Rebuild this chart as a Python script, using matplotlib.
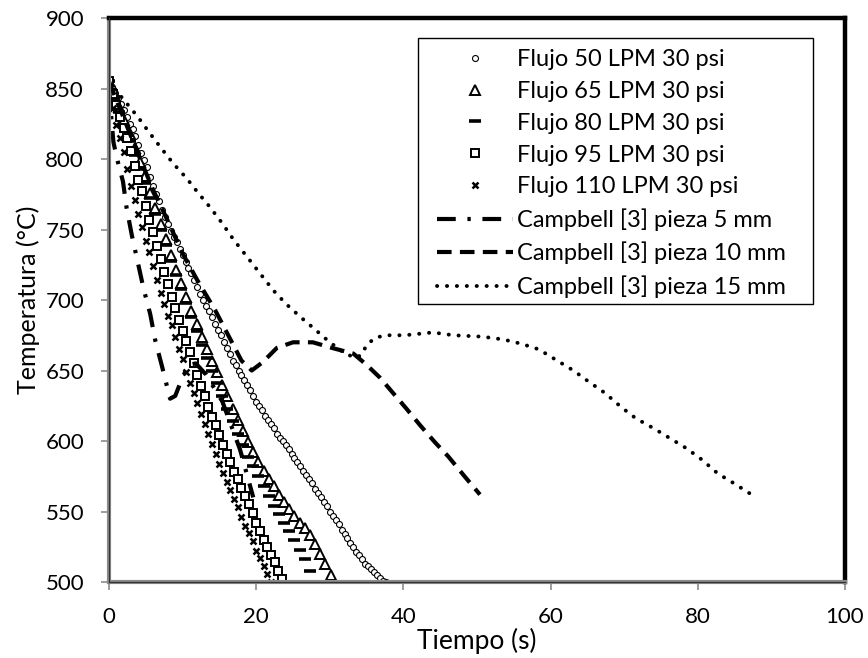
import numpy as np
import matplotlib
matplotlib.use('Agg')
import matplotlib.pyplot as plt
from matplotlib.patches import Rectangle

plt.rcParams['font.family'] = ['Lato', 'DejaVu Sans']

# --- datos ---
# flujos medidos (paso de tiempo constante por serie)
T50 = [855, 851, 847, 843, 839, 835, 830, 825, 821, 816,
       810, 804, 799, 794, 787, 781, 775, 770, 764, 759,
       754, 749, 745, 741, 736, 732, 727, 723, 719, 714,
       709, 704, 700, 696, 692, 688, 683, 679, 675, 670,
       666, 662, 657, 654, 650, 647, 643, 640, 636, 632,
       628, 625, 622, 618, 615, 612, 609, 605, 602, 600,
       597, 594, 591, 588, 585, 582, 579, 576, 573, 570,
       566, 563, 560, 557, 554, 550, 547, 544, 541, 537,
       534, 531, 528, 525, 521, 519, 516, 513, 511, 509,
       507, 505, 503, 501, 500]
dt50 = 0.4

T65 = [855, 846, 837, 828, 818, 808, 798, 788, 776, 765,
       754, 743, 732, 721, 712, 702, 692, 683, 674, 665,
       657, 649, 640, 632, 623, 615, 607, 599, 592, 585,
       579, 573, 568, 562, 557, 552, 547, 542, 538, 533,
       527, 520, 513, 505]
dt65 = 0.7

T80 = [855, 844, 833, 823, 813, 803, 793, 783, 772, 761,
       750, 739, 728, 718, 708, 698, 688, 678, 668, 659,
       650, 641, 632, 623, 614, 605, 597, 589, 582, 575,
       568, 561, 554, 548, 542, 536, 530, 523, 516, 508,
       500]
dt80 = 0.7

T95 = [855, 846, 838, 830, 822, 815, 806, 795, 785, 777,
       767, 757, 748, 738, 729, 720, 711, 702, 694, 686,
       678, 671, 663, 655, 647, 639, 632, 624, 617, 611,
       604, 597, 591, 585, 578, 573, 567, 561, 555, 549,
       542, 536, 530, 525, 519, 514, 508, 502]
dt95 = 0.5

T110 = [852, 836, 824, 815, 805, 793, 781, 771, 761, 752,
        742, 734, 724, 714, 705, 697, 689, 682, 674, 665,
        658, 649, 641, 634, 627, 619, 612, 605, 598, 591,
        584, 577, 571, 565, 559, 553, 546, 540, 535, 529,
        522, 517, 511, 506, 500]
dt110 = 0.5

# Campbell [3]
tc5 = [0, 0.3, 0.6, 1.1, 1.9, 2.4, 3.1, 3.9, 4.7, 5.6, 6.3, 7.2, 8.3, 9.0,
       9.9, 10.8, 11.8, 13.2, 15.4, 17.8, 19.6]
Tc5 = [852, 830, 812, 800, 784, 765, 746, 727, 708, 690, 671, 653, 630, 632,
       644, 654, 655, 647, 628, 594, 560]

tc10 = [0, 2, 4, 6, 8, 10, 12, 14.4, 16.7, 18.0, 19.4, 20.9, 22.8, 25.0, 27.7,
        30.3, 33.2, 35.0, 36.8, 38.6, 40.4, 42.3, 44.3, 46.1, 48.3, 50.4]
Tc10 = [855, 829, 803, 778, 756, 733, 714, 693, 670, 657, 650, 656, 666, 670, 670,
        666, 662, 654, 645, 634, 623, 611, 599, 589, 575, 562]

tc15 = [0, 2, 3.9, 5.3, 6.9, 8.7, 10.6, 12.1, 13.7, 15.3,
        16.9, 18.7, 20.5, 22.3, 24.1, 26.0, 27.8, 30.0, 32.1, 33.5,
        34.3, 35.0, 36.1, 37.5, 40.2, 44.0, 46.8, 50.7, 53.6, 56.0,
        58.4, 60.9, 63.1, 65.2, 67.4, 69.6, 71.6, 74.0, 76.2, 78.4,
        80.5, 82.7, 84.9, 87.3]
Tc15 = [855, 842, 830, 820, 809, 797, 786, 776, 766, 755,
        743, 731, 719, 707, 697, 688, 680, 670, 662, 659,
        661, 668, 673, 675, 675, 677, 675, 674, 672, 669,
        665, 657, 650, 642, 634, 624, 616, 609, 602, 595,
        587, 577, 570, 562]


def tiempos(T, dt):
    return np.arange(len(T)) * dt


W, H = 868, 658
fig = plt.figure(figsize=(W / 100, H / 100), dpi=100)
ax = fig.add_axes([109 / W, 76 / H, 736 / W, 564 / H])

ax.plot(tiempos(T50, dt50), T50, ls='none', marker='o', ms=4.3, mfc='white',
        mec='black', mew=0.8, label='Flujo 50 LPM 30 psi')
ax.plot(tiempos(T65, dt65), T65, ls='none', marker='^', ms=7, mfc='white',
        mec='black', mew=1.4, label='Flujo 65 LPM 30 psi')
ax.plot(tiempos(T80, dt80), T80, ls='none', marker='_', ms=8, mec='black',
        mew=2.6, label='Flujo 80 LPM 30 psi')
ax.plot(tiempos(T95, dt95), T95, ls='none', marker='s', ms=5.5, mfc='white',
        mec='black', mew=1.4, label='Flujo 95 LPM 30 psi')
ax.plot(tiempos(T110, dt110), T110, ls='none', marker='x', ms=4.5, mec='black',
        mew=1.8, label='Flujo 110 LPM 30 psi')

ax.plot(tc5, Tc5, color='black', lw=3, ls=(0, (4.5, 2.8, 0.8, 2.8)),
        label='Campbell [3] pieza 5 mm')
ax.plot(tc10, Tc10, color='black', lw=3, ls=(0, (3.5, 2.0)),
        label='Campbell [3] pieza 10 mm')
ax.plot(tc15, Tc15, color='black', lw=2.8, ls=(0, (0.05, 2.5)),
        dash_capstyle='round', label='Campbell [3] pieza 15 mm')

ax.set_xlim(0, 100)
ax.set_ylim(500, 900)
ax.set_xticks(np.arange(0, 101, 20))
ax.set_yticks(np.arange(500, 901, 50))
ax.tick_params(direction='out', length=6, width=1.2, color='#8c8c8c',
               labelsize=16, pad=12)

for s in ['top', 'right']:
    ax.spines[s].set_color('black')
    ax.spines[s].set_linewidth(3.2)
for s in ['left', 'bottom']:
    ax.spines[s].set_color('#8c8c8c')
    ax.spines[s].set_linewidth(3)
# linea interior oscura de los ejes
ax.plot([0, 0], [0, 1], color='#333333', lw=0.9, transform=ax.transAxes,
        clip_on=False, zorder=5)
ax.plot([0, 1], [0, 0], color='#333333', lw=0.9, transform=ax.transAxes,
        clip_on=False, zorder=5)

ax.set_xlabel('Tiempo (s)', fontsize=19, labelpad=1)
ax.set_ylabel('Temperatura (°C)', fontsize=18, labelpad=4)

# marco de la leyenda (pixeles de la figura)
marco = Rectangle((418 / W, (H - 304) / H), 395 / W, 266 / H,
                  transform=fig.transFigure, facecolor='white',
                  edgecolor='black', lw=1.0, zorder=4, clip_on=False)
ax.add_patch(marco)

leg = ax.legend(loc='upper left', bbox_to_anchor=(0.4457, 0.945),
                borderaxespad=0, borderpad=0, fontsize=17, frameon=False,
                handlelength=3.2, handletextpad=0.17, labelspacing=0.46,
                numpoints=1)
leg.set_zorder(6)

fig.savefig('out.png', dpi=100)
